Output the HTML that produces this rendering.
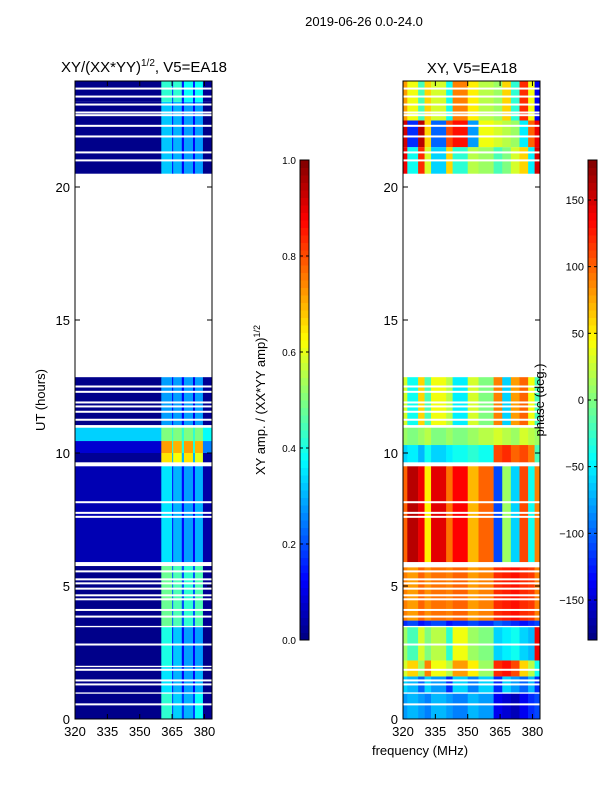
<!DOCTYPE html>
<html><head><meta charset="utf-8"><style>
body{margin:0;background:#fff;font-family:"Liberation Sans",sans-serif}
svg text{font-family:"Liberation Sans",sans-serif;fill:#000}
</style></head><body>
<svg id="c" width="600" height="800" xmlns="http://www.w3.org/2000/svg"></svg>
<script>
// ---------- data ----------
const ampFreqEdges = [320,360,365,365.5,369.5,370.5,374.7,375.6,379.3,383.5];
const ampSegStart = [0.0,1.0,2.0,3.5,5.9,9.65,10.0,10.45,11.05,20.5,23.2];
const ampSegEnd   = [0.95,1.95,3.45,5.75,9.5,10.0,10.45,10.95,12.85,23.2,24.0];
const ampValues = [
 [0.01,0.42,0.18,0.33,0.18,0.3,0.18,0.38,0.02],
 [0.01,0.35,0.14,0.3,0.12,0.28,0.12,0.3,0.01],
 [0.01,0.4,0.14,0.32,0.12,0.28,0.12,0.28,0.01],
 [0.01,0.48,0.22,0.45,0.2,0.42,0.2,0.45,0.02],
 [0.05,0.35,0.14,0.3,0.13,0.28,0.12,0.3,0.04],
 [0.02,0.65,0.3,0.62,0.3,0.65,0.3,0.6,0.03],
 [0.08,0.72,0.4,0.7,0.4,0.72,0.4,0.7,0.25],
 [0.33,0.5,0.42,0.5,0.42,0.5,0.42,0.5,0.38],
 [0.01,0.28,0.12,0.28,0.12,0.28,0.1,0.28,0.02],
 [0.01,0.32,0.14,0.3,0.12,0.28,0.12,0.28,0.01],
 [0.01,0.42,0.18,0.42,0.15,0.38,0.15,0.38,0.02]
];
const phFreqEdges = [320,322,327,330,333,340,343,350,355,362,366,370,374,378,381,383.5];
const phSegStart = [0.0,1.0,1.6,2.2,3.5,3.7,5.9,9.65,10.3,11.05,20.5,21.5,22.5];
const phSegEnd   = [0.95,1.6,2.2,3.45,3.7,5.7,9.5,10.3,10.95,12.85,21.5,22.5,24.0];
const phValues = [
 [-80,-70,-80,-90,-70,-80,-90,-70,-80,-140,-150,-160,-140,-120,-110],
 [-60,-70,-100,-60,-80,-120,-60,-90,-60,-120,-60,-80,-100,-70,-120],
 [30,60,10,90,40,20,80,50,10,120,130,110,60,20,-40],
 [10,-20,30,0,20,-30,40,10,0,-60,-50,-40,-60,-70,140],
 [-120,-110,-130,-120,-110,-130,-120,-110,-120,-100,-110,-120,-130,-120,-110],
 [90,80,100,85,95,90,100,80,90,120,125,130,120,115,90],
 [100,160,140,50,145,95,135,70,100,-110,10,-60,110,-40,90],
 [-60,-50,-70,-40,-60,-50,-40,-30,-40,110,120,100,110,90,-20],
 [10,0,10,20,0,10,0,10,20,30,20,10,30,20,10],
 [30,-40,60,-20,40,20,-50,30,0,90,-60,80,100,40,-20],
 [140,-40,120,30,-60,60,-30,20,10,-20,0,30,60,-50,150],
 [150,-120,160,60,-100,110,130,-80,40,30,20,10,-50,100,140],
 [80,40,-20,60,30,-40,90,50,20,10,60,-30,120,40,-140]
];
const gapHours = [0.55,1.3,1.45,1.85,2.8,3.85,4.1,4.5,4.65,4.9,5.1,5.25,5.55,7.6,7.75,8.15,11.25,11.55,11.75,11.9,12.3,12.5,21.0,21.3,21.9,22.3,22.7,22.8,23.1,23.4,23.7];
const xTicks = [320,335,350,365,380];
const yTicks = [0,5,10,15,20];
const ampCbTicks = [0.0,0.2,0.4,0.6,0.8,1.0];
const phCbTicks = [-150,-100,-50,0,50,100,150];

// ---------- helpers ----------
const S = document.getElementById('c');
const NS='http://www.w3.org/2000/svg';
function mk(tag,attrs,parent){const e=document.createElementNS(NS,tag);for(const k in attrs)e.setAttribute(k,attrs[k]);(parent||S).appendChild(e);return e;}
function jet(v){v=Math.max(0,Math.min(1,v));
 const r=Math.max(0,Math.min(1,Math.min(4*v-1.5,-4*v+4.5)));
 const g=Math.max(0,Math.min(1,Math.min(4*v-0.5,-4*v+3.5)));
 const b=Math.max(0,Math.min(1,Math.min(4*v+0.5,-4*v+2.5)));
 return `rgb(${Math.round(r*255)},${Math.round(g*255)},${Math.round(b*255)})`;}
const Y0=719, PXH=26.6;
const yH = h => Y0 - h*PXH;
function xF(px0){return f => px0 + (f-320)*137/63.5;}

function panel(px0, fEdges, sS, sE, vals, norm, name){
 const x=xF(px0);
 const g=mk('g',{});
 
 
 for(let s=0;s<sS.length;s++){
  for(let i=0;i<fEdges.length-1;i++){
   const r=mk('rect',{x:x(fEdges[i]),y:yH(sE[s]),width:x(fEdges[i+1])-x(fEdges[i])+0.3,height:yH(sS[s])-yH(sE[s]),fill:jet(norm(vals[s][i]))},g);
   
   
  }
 }
 for(const h of gapHours){
  const r=mk('rect',{x:px0,y:yH(h)-1,width:137,height:2,fill:'#fff'},g);
  
  
 }
 const fr=mk('rect',{x:px0,y:81,width:137,height:638,fill:'none',stroke:'#000','stroke-width':1});
 
 
 for(const t of xTicks){
  mk('line',{x1:x(t),x2:x(t),y1:719,y2:714,stroke:'#000'});
  mk('line',{x1:x(t),x2:x(t),y1:81,y2:86,stroke:'#000'});
  const tx=mk('text',{x:x(t),y:736,'font-size':13,'text-anchor':'middle'});tx.textContent=t;
  
  
 }
 for(const t of yTicks){
  mk('line',{x1:px0,x2:px0+5,y1:yH(t),y2:yH(t),stroke:'#000'});
  mk('line',{x1:px0+137,x2:px0+132,y1:yH(t),y2:yH(t),stroke:'#000'});
  const tx=mk('text',{x:px0-5,y:yH(t)+5,'font-size':13,'text-anchor':'end'});tx.textContent=t;
  
  
 }
}
function colorbar(cx, ticks, lo, hi, name, fmt){
 const g=mk('g',{});
 
 
 const N=64;
 for(let i=0;i<N;i++){
  mk('rect',{x:cx,y:640-(i+1)*480/N,width:9,height:480/N+0.5,fill:jet((i+0.5)/N)},g);
 }
 mk('rect',{x:cx,y:160,width:9,height:480,fill:'none',stroke:'#000'},g);
 for(const t of ticks){
  const yy=640-(t-lo)/(hi-lo)*480;
  mk('line',{x1:cx,x2:cx+3,y1:yy,y2:yy,stroke:'#000'},g);
  mk('line',{x1:cx+9,x2:cx+6,y1:yy,y2:yy,stroke:'#000'},g);
  const tx=mk('text',{x:cx-4,y:yy+4,'font-size':fmt?10:11,'text-anchor':'end'},g);
  tx.textContent=fmt?t.toFixed(1):(t<0?'\u2212'+(-t):t);
  
  
 }
}
panel(75, ampFreqEdges, ampSegStart, ampSegEnd, ampValues, v=>v, 'amplitude-heatmap');
panel(403, phFreqEdges, phSegStart, phSegEnd, phValues, v=>(v+180)/360, 'phase-heatmap');
colorbar(300, ampCbTicks, 0, 1, 'amplitude-colorbar', true);
colorbar(588, phCbTicks, -180, 180, 'phase-colorbar', false);
</script>
<svg width="600" height="800" style="position:absolute;left:0;top:0" xmlns="http://www.w3.org/2000/svg">
<text x="364" y="26" font-size="13" text-anchor="middle">2019-06-26 0.0-24.0</text>
<text x="144" y="72" font-size="15" text-anchor="middle">XY/(XX*YY)<tspan font-size="10" dy="-6">1/2</tspan><tspan dy="6">, V5=EA18</tspan></text>
<text x="472" y="73" font-size="15" text-anchor="middle">XY, V5=EA18</text>
<text transform="translate(45,400) rotate(-90)" font-size="13" text-anchor="middle">UT (hours)</text>
<text transform="translate(265,400) rotate(-90)" font-size="13" text-anchor="middle">XY amp. / (XX*YY amp)<tspan font-size="9" dy="-5">1/2</tspan></text>
<text transform="translate(544,400) rotate(-90)" font-size="13" text-anchor="middle">phase (deg.)</text>
<text x="420" y="755" font-size="13" text-anchor="middle">frequency (MHz)</text>
</svg>
</body></html>
